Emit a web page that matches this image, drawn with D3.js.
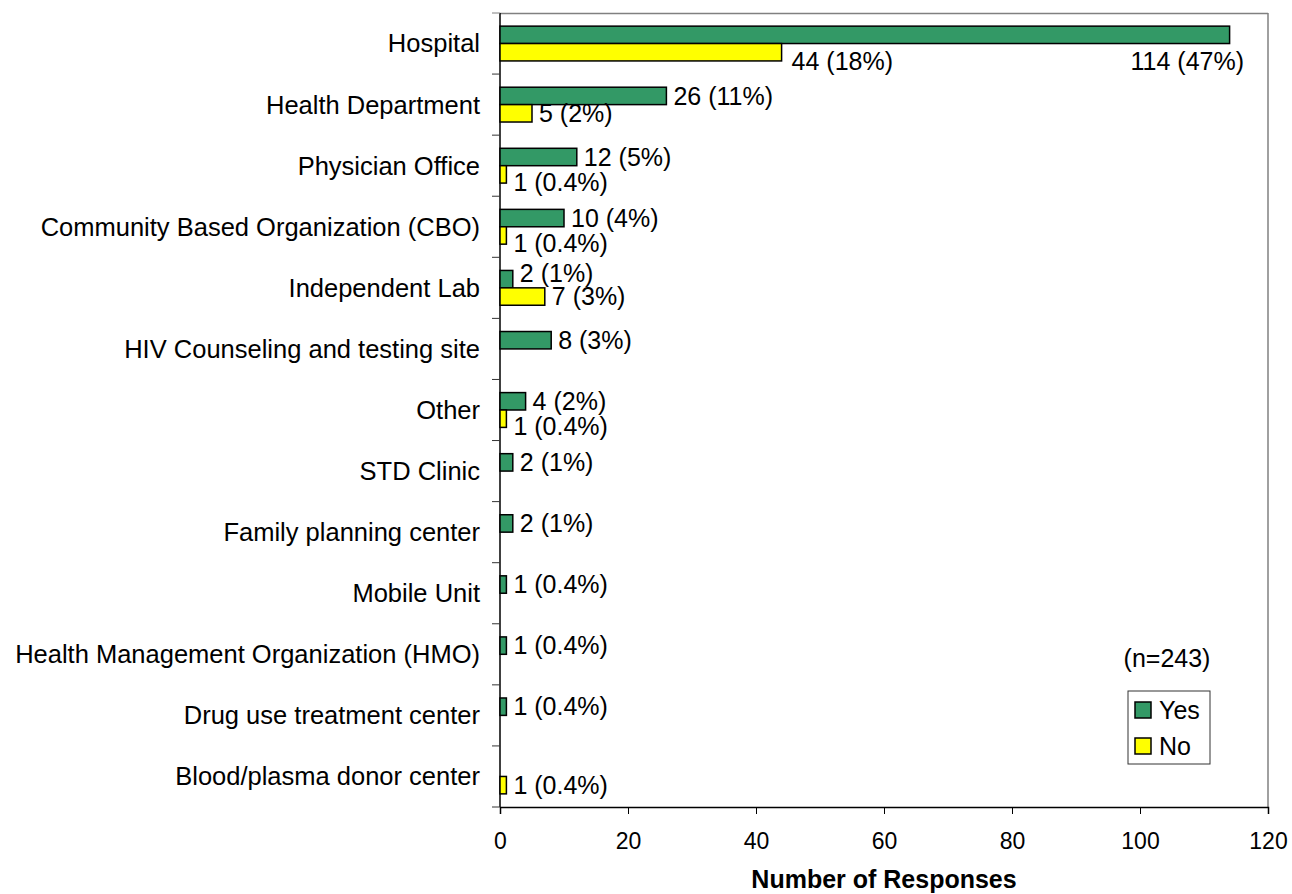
<!DOCTYPE html>
<html>
<head>
<meta charset="utf-8">
<script src="https://cdn.jsdelivr.net/npm/d3@7"></script>
<style>
  body { margin: 0; background: #fff; }
  svg { display: block; }
  text { font-family: "Liberation Sans", Arial, sans-serif; fill: #000; }
</style>
</head>
<body>
<div id="chart"></div>
<script>
// data
const categories = [
    "Hospital",
    "Health Department",
    "Physician Office",
    "Community Based Organization (CBO)",
    "Independent Lab",
    "HIV Counseling and testing site",
    "Other",
    "STD Clinic",
    "Family planning center",
    "Mobile Unit",
    "Health Management Organization (HMO)",
    "Drug use treatment center",
    "Blood/plasma donor center"
];
const yesValues = [114, 26, 12, 10, 2, 8, 4, 2, 2, 1, 1, 1, null];
const yesPct    = [47, 11, 5, 4, 1, 3, 2, 1, 1, 0.4, 0.4, 0.4, null];
const noValues  = [44, 5, 1, 1, 7, null, 1, null, null, null, null, null, 1];
const noPct     = [18, 2, 0.4, 0.4, 3, null, 0.4, null, null, null, null, null, 0.4];
const seriesNames = ["Yes", "No"];
const seriesColors = ["#339966", "#ffff00"];
const xTicks = [0, 20, 40, 60, 80, 100, 120];
const sampleNote = "(n=243)";
const xTitle = "Number of Responses";

const svgWidth = 1292;
const svgHeight = 894;
const margin = { top: 13, right: 24, bottom: 87, left: 500 };
const width = svgWidth - margin.left - margin.right;
const height = svgHeight - margin.top - margin.bottom;

const svg = d3.select("#chart").append("svg")
    .attr("width", svgWidth)
    .attr("height", svgHeight);

const g = svg.append("g")
    .attr("transform", `translate(${margin.left},${margin.top})`);

const x = d3.scaleLinear().domain([0, 120]).range([0, width]);
const y = d3.scaleBand().domain(categories).range([0, height]).padding(0);
const inner = d3.scaleBand().domain(seriesNames).range([0, y.bandwidth()])
    .paddingInner(0).paddingOuter(0.755);

// plot frame (top + right in grey)
g.append("line").attr("x1", 0).attr("x2", width).attr("y1", 0.5).attr("y2", 0.5)
    .attr("stroke", "#808080").attr("stroke-width", 1.5);
g.append("line").attr("x1", width).attr("x2", width).attr("y1", 0).attr("y2", height)
    .attr("stroke", "#808080").attr("stroke-width", 1.5);

// x axis
const xAxis = g.append("g")
    .attr("transform", `translate(0,${height})`)
    .call(d3.axisBottom(x).tickValues(xTicks).tickSize(7).tickPadding(19).tickFormat(d3.format("d")));
xAxis.select(".domain").attr("stroke", "#000").attr("stroke-width", 1.5);
xAxis.selectAll(".tick line").attr("stroke", "#000");
xAxis.selectAll("text").style("font-size", "23px").attr("font-family", null);

// y axis: line, ticks at band edges, labels centred on bands
g.append("line").attr("x1", 0).attr("x2", 0).attr("y1", 0).attr("y2", height)
    .attr("stroke", "#000").attr("stroke-width", 1.5);
const edges = categories.map(c => y(c)).concat([height]);
g.selectAll(".ytick").data(edges).enter().append("line")
    .attr("class", "ytick")
    .attr("x1", -8).attr("x2", 0)
    .attr("y1", d => d).attr("y2", d => d)
    .attr("stroke", (d, i) => i === 0 ? "#808080" : "#333");
g.selectAll(".ylabel").data(categories).enter().append("text")
    .attr("class", "ylabel")
    .attr("x", -20)
    .attr("y", d => y(d) + y.bandwidth() / 2)
    .attr("dy", "0.35em")
    .attr("text-anchor", "end")
    .style("font-size", "25.5px")
    .text(d => d);

// bars
const rows = categories.map((c, i) => ({
    cat: c,
    items: [
        { s: "Yes", v: yesValues[i], p: yesPct[i], color: seriesColors[0] },
        { s: "No", v: noValues[i], p: noPct[i], color: seriesColors[1] }
    ].filter(d => d.v !== null)
}));

const rowG = g.selectAll(".row").data(rows).enter().append("g")
    .attr("class", "row")
    .attr("transform", d => `translate(0,${y(d.cat)})`);

rowG.selectAll("rect").data(d => d.items).enter().append("rect")
    .attr("x", 0)
    .attr("y", d => inner(d.s))
    .attr("width", d => x(d.v))
    .attr("height", inner.bandwidth())
    .attr("fill", d => d.color)
    .attr("stroke", "#000")
    .attr("stroke-width", 1.5);

// value labels
const fmtPct = p => (p < 1 ? p.toFixed(1) : p) + "%";
rowG.each(function(row) {
    const rg = d3.select(this);
    const labels = row.items.map(d => {
        const t = rg.append("text")
            .attr("text-anchor", "start")
            .attr("dy", "0.35em")
            .style("font-size", "25px")
            .text(`${d.v} (${fmtPct(d.p)})`);
        return { d, t, x: x(d.v) + 7, y: inner(d.s) + inner.bandwidth() / 2, w: t.node().getComputedTextLength(), anchor: "start" };
    });
    const yes = labels.find(l => l.d.s === "Yes");
    const no = labels.find(l => l.d.s === "No");
    if (yes && yes.x + yes.w > width) {
        // no room outside: tuck under the bars, right aligned
        yes.anchor = "end";
        yes.x = width - 24;
        yes.y = (no ? no.y : yes.y) + 9;
        if (no) { no.y += 9; no.x += 3; }
    } else if (yes && no) {
        const overlap = !(yes.x > no.x + no.w || no.x > yes.x + yes.w);
        if (overlap) {
            if (yes.x < no.x) yes.y -= 6;
            else no.y += 8;
        }
    }
    labels.forEach(l => l.t.attr("x", l.x).attr("y", l.y).attr("text-anchor", l.anchor));
});

// x axis title
g.append("text")
    .attr("x", width / 2)
    .attr("y", height + 81)
    .attr("text-anchor", "middle")
    .style("font-size", "25px")
    .style("font-weight", "bold")
    .text(xTitle);

// sample size note
svg.append("text")
    .attr("x", 1167)
    .attr("y", 658)
    .attr("dy", "0.35em")
    .attr("text-anchor", "middle")
    .style("font-size", "25px")
    .text(sampleNote);

// legend
const legend = svg.append("g").attr("transform", "translate(1128,691)");
legend.append("rect")
    .attr("width", 82).attr("height", 73)
    .attr("fill", "#fff").attr("stroke", "#333").attr("stroke-width", 1);
const li = legend.selectAll(".li").data(seriesNames).enter().append("g")
    .attr("class", "li")
    .attr("transform", (d, i) => `translate(7,${11 + i * 36})`);
li.append("rect")
    .attr("width", 16).attr("height", 16)
    .attr("fill", (d, i) => seriesColors[i])
    .attr("stroke", "#000").attr("stroke-width", 1.5);
li.append("text")
    .attr("x", 24).attr("y", 8)
    .attr("dy", "0.35em")
    .style("font-size", "25px")
    .text(d => d);
</script>
</body>
</html>
